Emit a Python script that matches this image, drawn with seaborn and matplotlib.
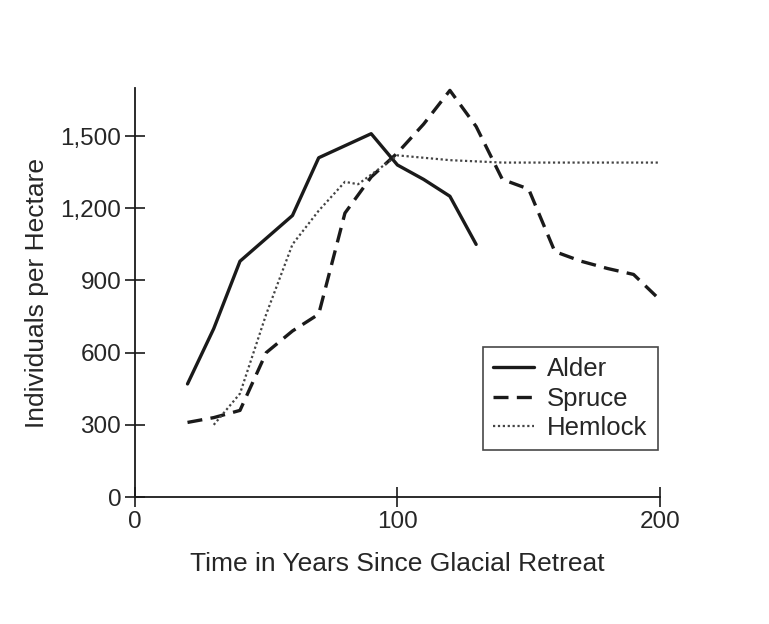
import pandas as pd
import matplotlib
matplotlib.use("Agg")
import matplotlib.pyplot as plt
import seaborn as sns

# values
alder_years = [20, 30, 40, 50, 60, 70, 80, 90, 100, 110, 120, 130]
alder_counts = [470, 700, 980, 1075, 1170, 1410, 1460, 1510, 1380, 1320, 1250, 1050]

spruce_years = [20, 30, 40, 50, 60, 70, 80, 90, 100, 110, 120, 130, 140, 150,
                160, 170, 180, 190, 200]
spruce_counts = [310, 330, 360, 600, 690, 760, 1180, 1330, 1430, 1550, 1690,
                 1540, 1320, 1280, 1020, 980, 950, 925, 820]

hemlock_years = [30, 40, 50, 60, 70, 80, 85, 100, 110, 120, 130, 140, 150,
                 160, 170, 180, 190, 200]
hemlock_counts = [300, 430, 760, 1050, 1190, 1310, 1300, 1420, 1410, 1400,
                  1395, 1390, 1390, 1390, 1390, 1390, 1390, 1390]

y_ticks = [0, 300, 600, 900, 1200, 1500]
y_tick_labels = ["0", "300", "600", "900", "1,200", "1,500"]
x_ticks = [0, 100, 200]

sns.set_style("ticks")
plt.rcParams['font.family'] = ['Liberation Sans', 'DejaVu Sans']

alder = pd.DataFrame({'year': alder_years, 'count': alder_counts})
spruce = pd.DataFrame({'year': spruce_years, 'count': spruce_counts})
hemlock = pd.DataFrame({'year': hemlock_years, 'count': hemlock_counts})

fig = plt.figure(figsize=(7.69, 6.24), dpi=100)
ax = fig.add_axes([0.1756, 0.2035, 0.6824, 0.6555])

ink = '#1a1a1a'
txt = '#262626'
sns.lineplot(data=alder, x='year', y='count', ax=ax, color=ink, lw=2.4,
             label='Alder')
l2 = sns.lineplot(data=spruce, x='year', y='count', ax=ax, color=ink, lw=2.4,
                  label='Spruce').lines[-1]
l2.set_dashes((4.5, 2.5))
l3 = sns.lineplot(data=hemlock, x='year', y='count', ax=ax, color='#444444',
                  lw=1.6, label='Hemlock').lines[-1]
l3.set_dashes((1, 1.2))

ax.set_xlim(0, 200)
ax.set_ylim(0, 1700)
ax.set_xticks(x_ticks)
ax.set_yticks(y_ticks)
ax.set_yticklabels(y_tick_labels)
ax.tick_params(direction='inout', length=14, width=1.2, labelsize=17.5,
               colors=ink, labelcolor=txt, pad=3)
for s in ['top', 'right']:
    ax.spines[s].set_visible(False)
for s in ['left', 'bottom']:
    ax.spines[s].set_linewidth(1.3)
    ax.spines[s].set_color(ink)

ax.set_xlabel('Time in Years Since Glacial Retreat', fontsize=19, color=txt,
              labelpad=14)
ax.set_ylabel('Individuals per Hectare', fontsize=19, color=txt, labelpad=8)

leg = ax.legend(loc='lower right', bbox_to_anchor=(0.996, 0.115), fontsize=18.5,
                frameon=True, fancybox=False, edgecolor=ink, handlelength=1.6,
                borderpad=0.4, labelspacing=0.2, handletextpad=0.5,
                borderaxespad=0, labelcolor=txt)
leg.get_frame().set_linewidth(1.2)

fig.savefig('out.png', dpi=100, facecolor='white')
